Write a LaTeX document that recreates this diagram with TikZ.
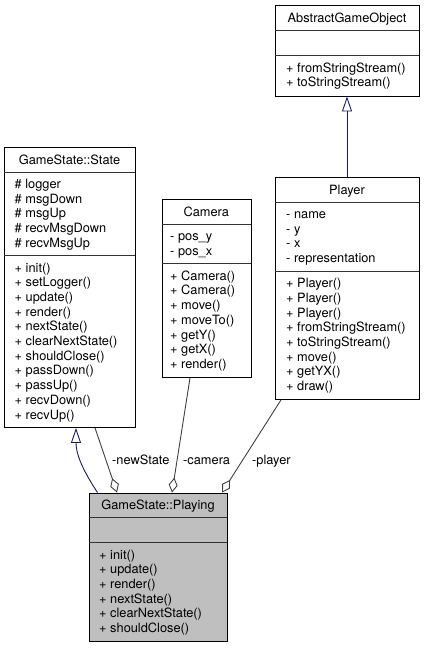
\documentclass[tikz,border=0pt]{standalone}
\usepackage{fontspec}
\setmainfont{TeX Gyre Heros}
\usetikzlibrary{arrows.meta,calc}
\definecolor{navy}{HTML}{191970}
\definecolor{aggcol}{HTML}{404040}
\definecolor{playfill}{HTML}{BFBFBF}
\begin{document}
\begin{tikzpicture}[x=1pt,y=-1pt,
  box/.style={draw=black, line width=0.9pt, rectangle, inner sep=0pt, anchor=north west, fill=white},
  sepline/.style={draw=black!80, line width=0.9pt},
  txt/.style={inner sep=0pt, anchor=base west, font=\fontsize{12.8}{14.7}\selectfont},
  ttl/.style={inner sep=0pt, anchor=base, font=\fontsize{12.8}{14.7}\selectfont},
  gen/.style={draw=navy, line width=0.9pt, -{Triangle[open, length=15pt, width=10pt]}},
  agg/.style={draw=aggcol, line width=0.9pt, -{Diamond[fill=white, length=15pt, width=9pt]}},
  lbl/.style={inner sep=0pt, anchor=base west, font=\fontsize{12.8}{14.7}\selectfont},
]
\useasboundingbox (0,0) rectangle (425,648);

% AbstractGameObject
\node[box, minimum width=144pt, minimum height=90.5pt] (ago) at (275,5) {};
\draw[sepline] (275,30) -- (419,30);
\draw[sepline] (275,55.5) -- (419,55.5);
\node[ttl] (agoT) at (347,22) {AbstractGameObject};
\foreach \t [count=\i] in {+ fromStringStream(), + toStringStream()}
  \node[txt] (agoM\i) at (286,{55.5+16.5+(\i-1)*14.7}) {\t};

% GameState::State
\node[box, minimum width=131pt, minimum height=280pt] (state) at (4,147) {};
\draw[sepline] (4,172) -- (135,172);
\draw[sepline] (4,255.5) -- (135,255.5);
\node[ttl] (stateT) at (69.5,164) {GameState::State};
\foreach \t [count=\i] in {\# logger, \# msgDown, \# msgUp, \# recvMsgDown, \# recvMsgUp}
  \node[txt] (stateA\i) at (14.5,{172+16.5+(\i-1)*14.7}) {\t};
\foreach \t [count=\i] in {+ init(), + setLogger(), + update(), + render(), + nextState(), + clearNextState(), + shouldClose(), + passDown(), + passUp(), + recvDown(), + recvUp()}
  \node[txt] (stateM\i) at (14.5,{255.5+16.5+(\i-1)*14.7}) {\t};

% Camera
\node[box, minimum width=89.5pt, minimum height=178pt] (camera) at (161.5,199) {};
\draw[sepline] (161.5,224) -- (251,224);
\draw[sepline] (161.5,263.7) -- (251,263.7);
\node[ttl] (cameraT) at (206.25,216) {Camera};
\foreach \t [count=\i] in {- pos\_y, - pos\_x}
  \node[txt] (cameraA\i) at (170,{224+16.5+(\i-1)*14.7}) {\t};
\foreach \t [count=\i] in {+ Camera(), + Camera(), + move(), + moveTo(), + getY(), + getX(), + render()}
  \node[txt] (cameraM\i) at (170,{263.7+16.5+(\i-1)*14.7}) {\t};

% Player
\node[box, minimum width=144pt, minimum height=222pt] (player) at (275,177) {};
\draw[sepline] (275,202) -- (419,202);
\draw[sepline] (275,271.1) -- (419,271.1);
\node[ttl] (playerT) at (347,194) {Player};
\foreach \t [count=\i] in {- name, - y, - x, - representation}
  \node[txt] (playerA\i) at (286,{202+16.5+(\i-1)*14.7}) {\t};
\foreach \t [count=\i] in {+ Player(), + Player(), + Player(), + fromStringStream(), + toStringStream(), + move(), + getYX(), + draw()}
  \node[txt] (playerM\i) at (286,{271.1+16.5+(\i-1)*14.7}) {\t};

% GameState::Playing
\node[box, fill=playfill, minimum width=138pt, minimum height=148.5pt] (playing) at (89,492.5) {};
\draw[sepline] (89,517.5) -- (227,517.5);
\draw[sepline] (89,542.5) -- (227,542.5);
\node[ttl] (playingT) at (158,509.5) {GameState::Playing};
\foreach \t [count=\i] in {+ init(), + update(), + render(), + nextState(), + clearNextState(), + shouldClose()}
  \node[txt] (playingM\i) at (99,{542.5+16.5+(\i-1)*14.7}) {\t};

% connectors
\draw[gen] ([xshift=72pt]player.north west) -- ([xshift=72pt]ago.south west);
\draw[gen] ([xshift=8.5pt]playing.north west) .. controls (88,478) and (76,458) .. ([xshift=72pt]state.south west);
\draw[agg] ([xshift=91pt]state.south west) -- ([xshift=28pt]playing.north west);
\draw[agg] ([xshift=28.5pt]camera.south west) -- ([xshift=83pt]playing.north west);
\draw[agg] ([xshift=6pt]player.south west) -- ([xshift=133pt]playing.north west);

\node[lbl] (lNew) at (112,464.5) {-newState};
\node[lbl] (lCam) at (183,464.5) {-camera};
\node[lbl] (lPl) at (252,464.5) {-player};
\end{tikzpicture}
\end{document}
